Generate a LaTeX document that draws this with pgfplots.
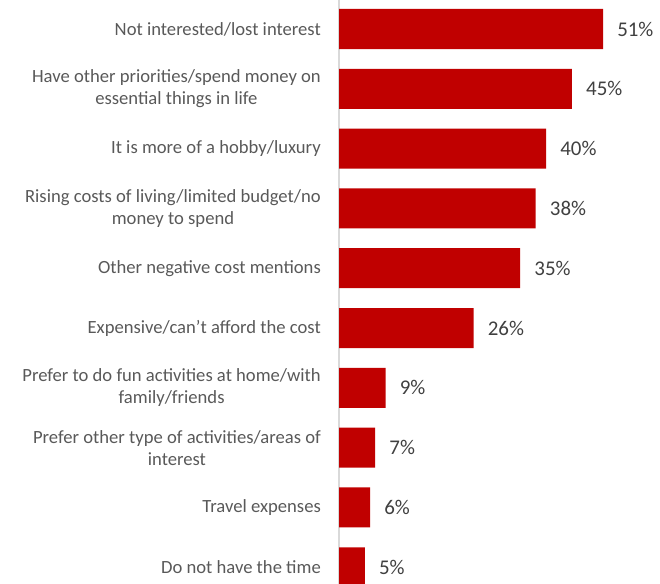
\documentclass[border=0pt]{standalone}
\usepackage{pgfplots}
\pgfplotsset{compat=1.18}
\usepackage{fontspec}
\setmainfont{Carlito}
\definecolor{barred}{HTML}{C00000}
\definecolor{txt}{HTML}{404040}
\definecolor{lbl}{HTML}{595959}
\begin{document}
\begin{tikzpicture}[x=1bp,y=1bp]
\useasboundingbox (0,0) rectangle (660,584);
\begin{axis}[
  at={(339bp,0bp)}, anchor=south west,
  scale only axis, width=321bp, height=584bp,
  xmin=0, xmax=62, ymin=-0.485, ymax=9.28, y dir=reverse,
  xbar, bar width=0.669,
  axis x line=none, axis y line=left,
  y axis line style={-, draw=black!15, line width=1.2pt},
  ytick={0,...,9}, major tick length=0,
  /pgf/number format/assume math mode=true,
  yticklabels={
    {Not interested/lost interest},
    {Have other priorities/spend money on\\essential things in life},
    {It is more of a hobby/luxury},
    {Rising costs of living/limited budget/no\\money to spend},
    {Other negative cost mentions},
    {Expensive/can't afford the cost},
    {Prefer to do fun activities at home/with\\family/friends},
    {Prefer other type of activities/areas of\\interest},
    {Travel expenses},
    {Do not have the time}},
  yticklabel style={font=\fontsize{18.7}{22}\selectfont, text=lbl, align=center, inner sep=0pt, xshift=-18bp},
  point meta=x,
  nodes near coords={\pgfmathprintnumber{\pgfplotspointmeta}\%},
  nodes near coords style={font=\fontsize{21}{24}\selectfont, text=txt, anchor=west, inner sep=0pt, xshift=14bp},
  clip=false,
]
\addplot[fill=barred, draw=none] coordinates {(51,0) (45,1) (40,2) (38,3) (35,4) (26,5) (9,6) (7,7) (6,8) (5,9)};
\end{axis}
\end{tikzpicture}
\end{document}
